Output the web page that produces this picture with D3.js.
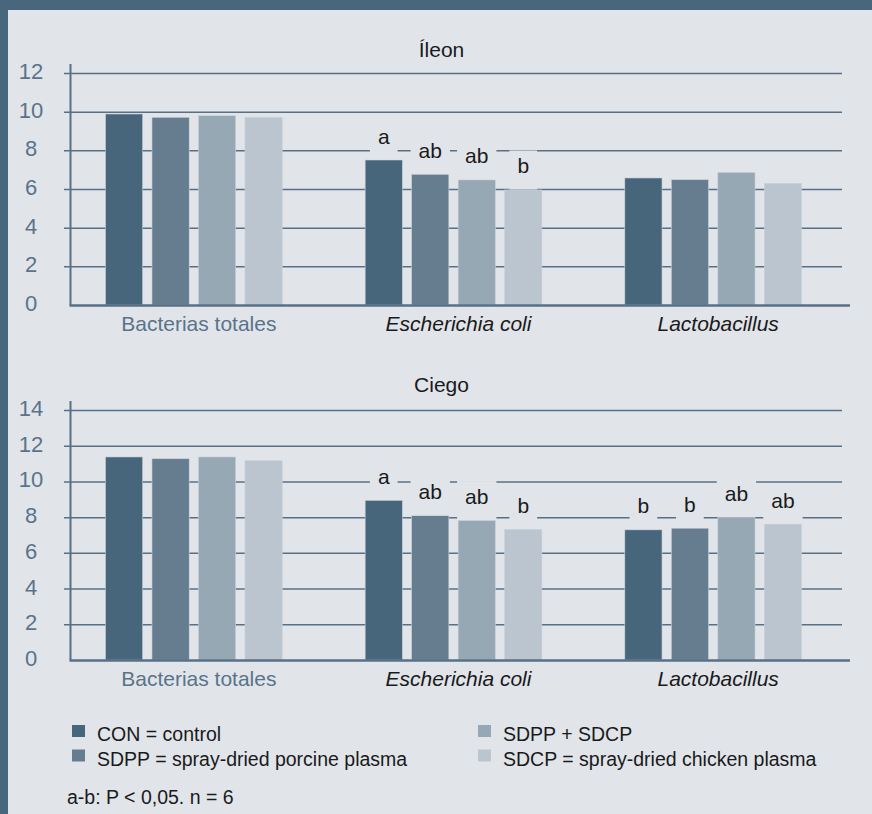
<!DOCTYPE html>
<html lang="es">
  <head>
    <meta charset="UTF-8" />
    <title>Íleon / Ciego</title>
    <script src="https://d3js.org/d3.v7.min.js"></script>
    <style>
      body { margin: 0; }
      svg { display: block; font-family: "Liberation Sans", Arial, sans-serif; }
    </style>
  </head>
  <body>
    <div id="chart"></div>
  </body>
</html>

<script>
  // data
  const categories = ["Bacterias totales", "Escherichia coli", "Lactobacillus"]
  const series = ["CON", "SDPP", "SDPP + SDCP", "SDCP"]
  const legendLabels = [
    "CON = control",
    "SDPP = spray-dried porcine plasma",
    "SDPP + SDCP",
    "SDCP = spray-dried chicken plasma",
  ]
  // one row per category, one value per series
  const ileonValues = [
    [9.88, 9.71, 9.79, 9.71],
    [7.5, 6.76, 6.47, 5.95],
    [6.57, 6.48, 6.86, 6.29],
  ]
  const ciegoValues = [
    [11.37, 11.27, 11.37, 11.16],
    [8.94, 8.08, 7.81, 7.31],
    [7.29, 7.38, 7.98, 7.61],
  ]
  const ileonLetters = [null, ["a", "ab", "ab", "b"], null]
  const ciegoLetters = [null, ["a", "ab", "ab", "b"], ["b", "b", "ab", "ab"]]
  const ileonTicks = [0, 2, 4, 6, 8, 10, 12]
  const ciegoTicks = [0, 2, 4, 6, 8, 10, 12, 14]
  const footnote = "a-b: P < 0,05. n = 6"

  const W = 872, H = 814
  const bg = "#e1e5ea"
  const frame = "#48667c"
  const axisCol = "#587086"
  const colors = d3.scaleOrdinal().domain(series)
    .range(["#48667b", "#667c8f", "#97a8b5", "#bbc5cf"])

  const svg = d3.select("#chart").append("svg")
    .attr("width", W).attr("height", H)

  svg.append("rect").attr("width", W).attr("height", H).attr("fill", bg)
  svg.append("rect").attr("width", W).attr("height", 10).attr("fill", frame)
  svg.append("rect").attr("width", 8).attr("height", H).attr("fill", frame)

  const gridLeft = 64, gridRight = 842, axisX = 70.5, axisEnd = 850

  const x0 = d3.scaleBand().domain(categories).range([64, 843])
  const x1 = d3.scaleBand().domain(series).range([-93, 93])
    .paddingInner(0.2).paddingOuter(0.1)

  function panel(title, values, letters, ticks, top, bottom, titleY) {
    const y = d3.scaleLinear().domain([0, d3.max(ticks)]).range([bottom, top])
    const g = svg.append("g")

    // gridlines + tick labels
    const ax = g.append("g")
      .attr("transform", `translate(${gridLeft},0)`)
      .call(d3.axisLeft(y).tickValues(ticks).tickSize(-(gridRight - gridLeft)).tickPadding(0))
    ax.select(".domain").remove()
    ax.selectAll(".tick line")
      .attr("stroke", axisCol).attr("stroke-width", 1.5)
      .filter(d => d === 0).remove()
    ax.selectAll(".tick text")
      .attr("x", 31 - gridLeft).attr("dy", null).attr("y", 5.5)
      .attr("text-anchor", "middle")
      .attr("fill", "#5a7389")
      .style("font-size", "22px")
      .style("font-family", "'Liberation Sans', Arial, sans-serif")

    // bars
    const groups = g.selectAll(".grp").data(categories).enter().append("g")
      .attr("transform", c => `translate(${x0(c) + x0.bandwidth() / 2},0)`)

    groups.selectAll("rect")
      .data((c, i) => values[i].map((v, j) => ({ s: series[j], v })))
      .enter().append("rect")
      .attr("x", d => x1(d.s))
      .attr("y", d => y(d.v))
      .attr("width", x1.bandwidth())
      .attr("height", d => y(0) - y(d.v))
      .attr("fill", d => colors(d.s))
      .attr("stroke", "#c9d1d9").attr("stroke-width", 0.6)

    // significance letters with a background patch that cuts the gridlines
    groups.each(function (c, i) {
      if (!letters[i]) return
      const grp = d3.select(this)
      letters[i].forEach((l, j) => {
        const cx = x1(series[j]) + x1.bandwidth() / 2
        const top = y(values[i][j])
        const base = top - 16.5
        const t = grp.append("text")
          .attr("x", cx).attr("y", base)
          .attr("text-anchor", "middle")
          .attr("fill", "#1a1a1a")
          .style("font-size", "21px")
          .text(l)
        const w = t.node().getComputedTextLength() + 16
        grp.insert("rect", "text")
          .attr("x", cx - w / 2).attr("y", base - 23)
          .attr("width", w).attr("height", top - (base - 23) - 0.5)
          .attr("fill", bg)
      })
    })

    // axes lines
    g.append("line")
      .attr("x1", axisX).attr("x2", axisX)
      .attr("y1", top - 9).attr("y2", bottom)
      .attr("stroke", axisCol).attr("stroke-width", 2)
    g.append("line")
      .attr("x1", axisX - 1).attr("x2", axisEnd)
      .attr("y1", bottom + 0.5).attr("y2", bottom + 0.5)
      .attr("stroke", axisCol).attr("stroke-width", 2.5)

    // category labels
    const xa = g.append("g")
      .attr("transform", `translate(0,${bottom})`)
      .call(d3.axisBottom(x0).tickSize(0).tickPadding(0))
    xa.select(".domain").remove()
    xa.selectAll(".tick text")
      .attr("dy", null).attr("y", 26).attr("x", 5)
      .style("font-size", "21px")
      .style("font-family", "'Liberation Sans', Arial, sans-serif")
      .style("font-style", (d, i) => (i === 0 ? "normal" : "italic"))
      .attr("fill", (d, i) => (i === 0 ? "#5a7389" : "#1a1a1a"))

    // title
    svg.append("text")
      .attr("x", 441.5).attr("y", titleY)
      .attr("text-anchor", "middle")
      .attr("fill", "#1a1a1a")
      .style("font-size", "21px")
      .text(title)
  }

  panel("Íleon", ileonValues, ileonLetters, ileonTicks, 73, 305, 56.5)
  panel("Ciego", ciegoValues, ciegoLetters, ciegoTicks, 410, 660, 391.5)

  // legend, two columns
  const legend = svg.append("g")
  legendLabels.forEach((lab, i) => {
    const col = Math.floor(i / 2), row = i % 2
    const lx = col === 0 ? 72 : 478
    const ly = 741 + row * 24.5
    legend.append("rect")
      .attr("x", lx).attr("y", ly - 16)
      .attr("width", 13).attr("height", 12)
      .attr("fill", colors(series[i]))
    legend.append("text")
      .attr("x", lx + 25).attr("y", ly)
      .attr("fill", "#1a1a1a")
      .style("font-size", "19.5px")
      .text(lab)
  })

  svg.append("text")
    .attr("x", 67).attr("y", 804)
    .attr("fill", "#1a1a1a")
    .style("font-size", "19.5px")
    .text(footnote)
</script>
